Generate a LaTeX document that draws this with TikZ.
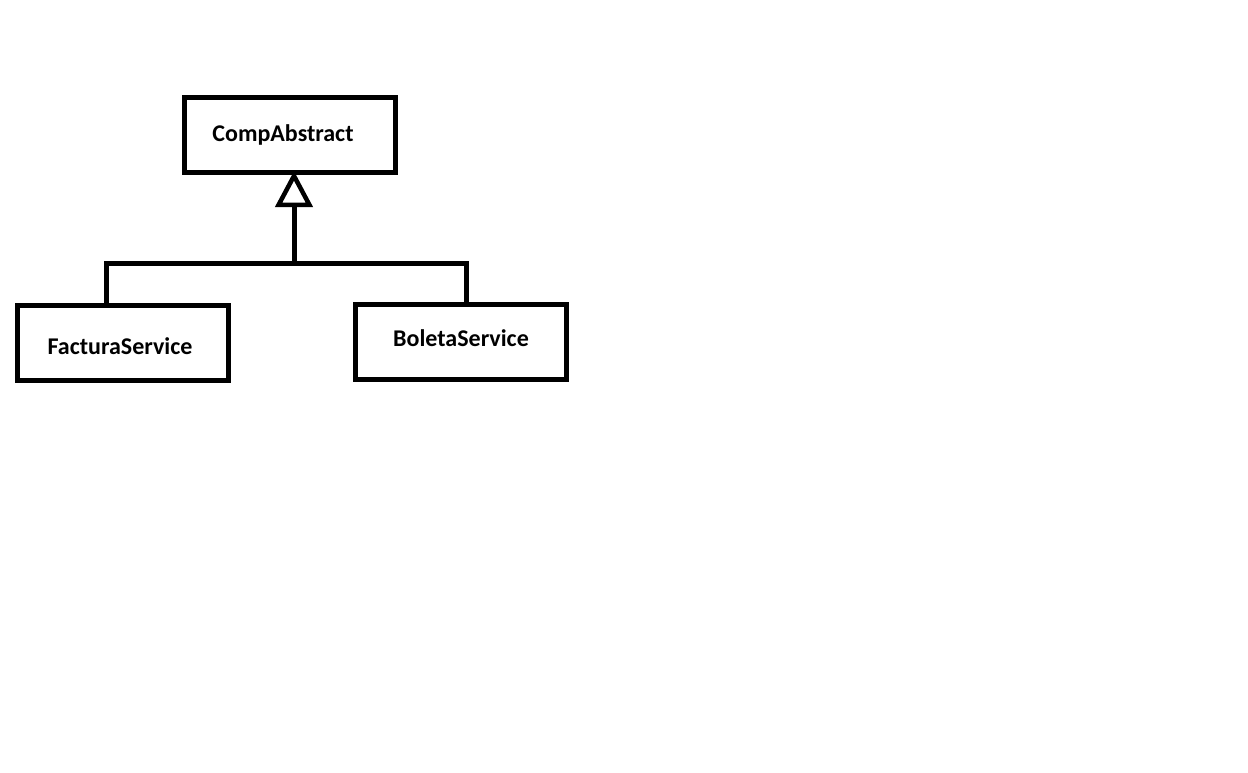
\documentclass[tikz,border=0pt]{standalone}
\usepackage{fontspec}
\setmainfont{Carlito}
\usetikzlibrary{arrows.meta}
\begin{document}
\begin{tikzpicture}[x=1pt,y=-1pt,
  classbox/.style={draw=black,line width=5pt,minimum width=211pt,minimum height=75pt,inner sep=0pt,fill=white},
  lbl/.style={font=\fontsize{24}{28}\selectfont\bfseries,inner sep=0pt},
  conn/.style={line width=5pt,line join=miter}]
\fill[white] (0,0) rectangle (1248,773);
\useasboundingbox (0,0) rectangle (1248,773);
\node[classbox] (comp) at (290,135) {};
\node[classbox] (fact) at (122.5,343) {};
\node[classbox] (bol) at (460.5,342) {};
\node[lbl] (compt) at (283,135) {CompAbstract};
\node[lbl] (factt) at (120,346) {FacturaService};
\node[lbl] (bolt) at (461,338) {BoletaService};
\coordinate (j) at (294,263);
\coordinate (jl) at (106,263);
\coordinate (jr) at (466,263);
\draw[conn] (jl |- fact.north) -- (jl) -- (jr) -- (jr |- bol.north);
\draw[conn,-{Triangle[open,length=36pt,width=37pt,line width=4.5pt]}] (j) -- ([yshift=4pt]comp.south -| j);
\end{tikzpicture}
\end{document}
